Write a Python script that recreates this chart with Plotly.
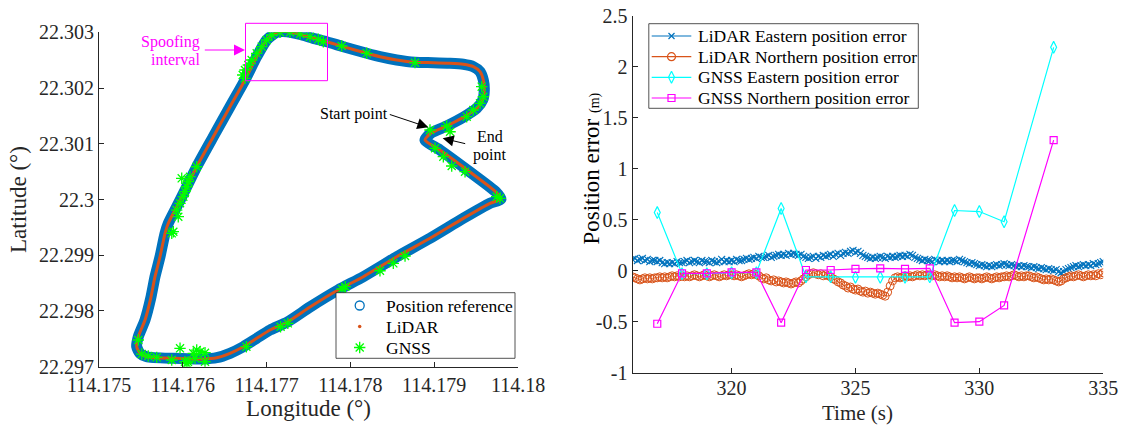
import numpy as np
import plotly.graph_objects as go

W, H = 1123, 425
FONT = "Times New Roman, Liberation Serif, serif"
INK = "#262626"

# ---------------- left panel: trajectory (lon / lat) ----------------
ref_lon = [114.178962, 114.179149, 114.179347, 114.179507, 114.179579, 114.179598,
           114.179586, 114.179547, 114.179467, 114.179347, 114.179189, 114.178989,
           114.178771, 114.178553, 114.178353, 114.178195, 114.177915, 114.177717,
           114.177557, 114.177399, 114.177240, 114.177121, 114.177001, 114.176882,
           114.176742, 114.176563, 114.176364, 114.176166, 114.176047, 114.175927,
           114.175827, 114.175788, 114.175728, 114.175668, 114.175617, 114.175549,
           114.175469, 114.175450, 114.175489, 114.175569, 114.175887, 114.176245,
           114.176405, 114.176563, 114.176722, 114.176882, 114.177041, 114.177253,
           114.177518, 114.177852, 114.178154, 114.178553, 114.178950, 114.179347,
           114.179666, 114.179797, 114.179738, 114.179427, 114.179069, 114.178890,
           114.178962]
ref_lat = [22.301193, 22.301319, 22.301475, 22.301636, 22.301785, 22.301965,
           22.302144, 22.302293, 22.302383, 22.302426, 22.302444, 22.302455,
           22.302462, 22.302503, 22.302562, 22.302623, 22.302742, 22.302831,
           22.302892, 22.302961, 22.303011, 22.303000, 22.302862, 22.302562,
           22.302144, 22.301665, 22.301127, 22.300588, 22.300229, 22.299871,
           22.299573, 22.299393, 22.298973, 22.298615, 22.298227, 22.297838,
           22.297538, 22.297359, 22.297240, 22.297179, 22.297150, 22.297138,
           22.297161, 22.297240, 22.297359, 22.297509, 22.297658, 22.297807,
           22.298071, 22.298376, 22.298615, 22.298973, 22.299304, 22.299662,
           22.299932, 22.300009, 22.300134, 22.300493, 22.300888, 22.301067,
           22.301193]
# LiDAR solution follows the reference track at this scale
lidar_lon = list(ref_lon)
lidar_lat = list(ref_lat)

gnss_lon = [114.176715, 114.176742, 114.176782, 114.176822, 114.176882, 114.176942,
            114.177001, 114.177061, 114.177160, 114.177279, 114.177399, 114.177518,
            114.177617, 114.177677, 114.177896, 114.178195, 114.178771, 114.179567,
            114.179586, 114.179547, 114.179467, 114.179388, 114.179149, 114.179189,
            114.178950, 114.179010, 114.179109, 114.179209, 114.179368, 114.179746,
            114.179785, 114.178652, 114.178512, 114.178353, 114.177939, 114.177900,
            114.177253, 114.177167, 114.176759, 114.175469, 114.175510, 114.175588,
            114.175689, 114.175868, 114.175967, 114.176026, 114.176047, 114.176062,
            114.176125, 114.176166, 114.176205, 114.176265, 114.176265, 114.176146,
            114.176742, 114.176166, 114.175987, 114.176086, 114.176066, 114.176047,
            114.176026, 114.176006, 114.175967, 114.175927, 114.175946, 114.175887,
            114.175868]
gnss_lat = [22.302234, 22.302324, 22.302413, 22.302503, 22.302623, 22.302742,
            22.302862, 22.302952, 22.303000, 22.303000, 22.302969, 22.302921,
            22.302874, 22.302831, 22.302754, 22.302623, 22.302455, 22.302024,
            22.301844, 22.301726, 22.301606, 22.301486, 22.301319, 22.301216,
            22.301247, 22.300919, 22.300768, 22.300601, 22.300499, 22.300050,
            22.300021, 22.298986, 22.298855, 22.298722, 22.298435, 22.298394,
            22.297778, 22.297717, 22.297359, 22.297479, 22.297227, 22.297192,
            22.297168, 22.297120, 22.297330, 22.297089, 22.297061, 22.297084,
            22.297240, 22.297299, 22.297269, 22.297251, 22.297089, 22.297150,
            22.302175, 22.300588, 22.300380, 22.300409, 22.300319, 22.300229,
            22.300140, 22.300050, 22.299932, 22.299811, 22.299691, 22.299422,
            22.299393]

lon_ticks = [114.175, 114.176, 114.177, 114.178, 114.179, 114.18]
lon_labels = ["114.175", "114.176", "114.177", "114.178", "114.179", "114.18"]
lat_ticks = [22.297, 22.298, 22.299, 22.300, 22.301, 22.302, 22.303]
lat_labels = ["22.297", "22.298", "22.299", "22.3", "22.301", "22.302", "22.303"]

# ---------------- right panel: position errors ----------------
t_lidar = np.round(np.arange(316.0, 335.05, 0.1), 1)   # 10 Hz samples
lidar_east = [
    0.11, 0.12, 0.10, 0.11, 0.12, 0.10, 0.11, 0.09, 0.10, 0.10,
    0.09, 0.10, 0.08, 0.07, 0.08, 0.07, 0.08, 0.07, 0.09, 0.08,
    0.08, 0.09, 0.10, 0.08, 0.09, 0.10, 0.09, 0.08, 0.10, 0.09,
    0.09, 0.08, 0.10, 0.09, 0.08, 0.09, 0.11, 0.09, 0.10, 0.09,
    0.10, 0.09, 0.11, 0.10, 0.10, 0.11, 0.12, 0.11, 0.12, 0.13,
    0.12, 0.14, 0.13, 0.13, 0.14, 0.15, 0.13, 0.14, 0.15, 0.16,
    0.15, 0.16, 0.15, 0.17, 0.16, 0.17, 0.16, 0.15, 0.16, 0.14,
    0.13, 0.12, 0.13, 0.14, 0.12, 0.14, 0.13, 0.15, 0.14, 0.15,
    0.16, 0.14, 0.16, 0.17, 0.15, 0.17, 0.18, 0.17, 0.19, 0.20,
    0.18, 0.19, 0.17, 0.15, 0.14, 0.13, 0.12, 0.13, 0.12, 0.13,
    0.14, 0.13, 0.12, 0.14, 0.13, 0.14, 0.13, 0.14, 0.15, 0.14,
    0.15, 0.14, 0.16, 0.15, 0.13, 0.12, 0.11, 0.10, 0.11, 0.10,
    0.10, 0.09, 0.11, 0.10, 0.09, 0.10, 0.09, 0.10, 0.09, 0.10,
    0.10, 0.09, 0.11, 0.10, 0.09, 0.08, 0.07, 0.08, 0.07, 0.06,
    0.05, 0.06, 0.05, 0.04, 0.05, 0.04, 0.05, 0.06, 0.05, 0.06,
    0.07, 0.06, 0.05, 0.06, 0.05, 0.04, 0.05, 0.04, 0.05, 0.04,
    0.04, 0.03, 0.04, 0.03, 0.02, 0.03, 0.02, 0.01, 0.02, 0.01,
    0.00, 0.01, -0.01, -0.02, -0.01, 0.01, 0.02, 0.03, 0.04, 0.05,
    0.04, 0.05, 0.06, 0.05, 0.06, 0.05, 0.07, 0.06, 0.07, 0.08,
    0.09]
lidar_north = [
    -0.06, -0.07, -0.08, -0.09, -0.08, -0.07, -0.08, -0.07, -0.08, -0.07,
    -0.07, -0.06, -0.07, -0.06, -0.07, -0.06, -0.05, -0.06, -0.05, -0.06,
    -0.05, -0.06, -0.05, -0.06, -0.05, -0.04, -0.05, -0.06, -0.05, -0.04,
    -0.05, -0.06, -0.05, -0.04, -0.05, -0.06, -0.05, -0.04, -0.05, -0.04,
    -0.04, -0.05, -0.04, -0.05, -0.06, -0.05, -0.04, -0.03, -0.04, -0.03,
    -0.04, -0.05, -0.07, -0.08, -0.07, -0.09, -0.10, -0.09, -0.11, -0.10,
    -0.11, -0.12, -0.11, -0.12, -0.13, -0.12, -0.11, -0.12, -0.10, -0.08,
    -0.06, -0.04, -0.03, -0.02, -0.03, -0.04, -0.03, -0.05, -0.04, -0.05,
    -0.06, -0.08, -0.09, -0.11, -0.12, -0.14, -0.15, -0.17, -0.16, -0.18,
    -0.19, -0.18, -0.20, -0.21, -0.20, -0.22, -0.21, -0.22, -0.23, -0.22,
    -0.23, -0.24, -0.25, -0.21, -0.15, -0.10, -0.07, -0.06, -0.07, -0.06,
    -0.05, -0.06, -0.05, -0.06, -0.05, -0.04, -0.05, -0.04, -0.05, -0.04,
    -0.04, -0.05, -0.04, -0.05, -0.06, -0.05, -0.06, -0.05, -0.06, -0.07,
    -0.06, -0.07, -0.06, -0.07, -0.08, -0.07, -0.06, -0.07, -0.08, -0.07,
    -0.07, -0.08, -0.07, -0.06, -0.07, -0.08, -0.07, -0.06, -0.07, -0.06,
    -0.06, -0.05, -0.06, -0.05, -0.04, -0.05, -0.06, -0.05, -0.06, -0.05,
    -0.05, -0.06, -0.07, -0.06, -0.07, -0.08, -0.09, -0.08, -0.09, -0.08,
    -0.09, -0.10, -0.11, -0.10, -0.08, -0.07, -0.06, -0.05, -0.06, -0.05,
    -0.04, -0.05, -0.06, -0.05, -0.04, -0.05, -0.04, -0.05, -0.03, -0.04,
    -0.02]

t_gnss = [317, 318, 319, 320, 321, 322, 323, 324, 325, 326, 327, 328, 329, 330, 331, 333]
gnss_east = [0.57, -0.03, -0.03, -0.02, -0.02, 0.61, -0.06, -0.06, -0.065, -0.065,
             -0.065, -0.06, 0.59, 0.58, 0.48, 2.19]
gnss_north = [-0.52, -0.026, -0.026, -0.016, -0.016, -0.51, 0.007, 0.007, 0.017, 0.023,
              0.017, 0.023, -0.51, -0.50, -0.34, 1.28]

time_ticks = [320, 325, 330, 335]
err_ticks = [-1, -0.5, 0, 0.5, 1, 1.5, 2, 2.5]
err_labels = ["-1", "-0.5", "0", "0.5", "1", "1.5", "2", "2.5"]

C_BLUE, C_ORANGE = "#0072BD", "#D95319"
C_GREEN, C_CYAN, C_MAGENTA = "#00FF00", "#00FFFF", "#FF00FF"


def px(x):
    return x / W


def py(y):
    return 1 - y / H


def mk(symbol, size, color, width=1.2):
    # open / line-only symbols take their stroke colour from marker.color
    return dict(symbol=symbol, size=size, color=color, line=dict(color=color, width=width))


fig = go.Figure()

# trajectory
fig.add_trace(go.Scatter(x=ref_lon, y=ref_lat, mode="lines", xaxis="x", yaxis="y",
                         line=dict(color=C_BLUE, width=11, shape="spline", smoothing=0.6),
                         showlegend=False, hoverinfo="skip"))
fig.add_trace(go.Scatter(x=lidar_lon, y=lidar_lat, mode="lines", xaxis="x", yaxis="y",
                         line=dict(color=C_ORANGE, width=3, shape="spline", smoothing=0.6),
                         showlegend=False, hoverinfo="skip"))
fig.add_trace(go.Scatter(x=gnss_lon, y=gnss_lat, mode="markers", xaxis="x", yaxis="y",
                         marker=mk("asterisk-open", 9.5, C_GREEN, 1.3),
                         showlegend=False, hoverinfo="skip"))

# error series
fig.add_trace(go.Scatter(x=t_lidar, y=lidar_east, mode="lines+markers", xaxis="x2", yaxis="y2",
                         line=dict(color=C_BLUE, width=1), marker=mk("x-thin-open", 7, C_BLUE, 1.1),
                         showlegend=False))
fig.add_trace(go.Scatter(x=t_lidar, y=lidar_north, mode="lines+markers", xaxis="x2", yaxis="y2",
                         line=dict(color=C_ORANGE, width=1), marker=mk("circle-open", 8, C_ORANGE, 1),
                         showlegend=False))
fig.add_trace(go.Scatter(x=t_gnss, y=gnss_east, mode="lines+markers", xaxis="x2", yaxis="y2",
                         line=dict(color=C_CYAN, width=1.2), marker=mk("diamond-tall-open", 8.5, C_CYAN),
                         showlegend=False))
fig.add_trace(go.Scatter(x=t_gnss, y=gnss_north, mode="lines+markers", xaxis="x2", yaxis="y2",
                         line=dict(color=C_MAGENTA, width=1.2), marker=mk("square-open", 7, C_MAGENTA),
                         showlegend=False))

# ---------------- legends (drawn on a full-page pixel overlay) ----------------
annotations = []


def legend_box(left, top, right, bottom):
    fig.add_trace(go.Scatter(x=[left, right, right, left, left], y=[top, top, bottom, bottom, top],
                             mode="lines", fill="toself", fillcolor="white",
                             line=dict(color=INK, width=0.8), xaxis="x3", yaxis="y3",
                             showlegend=False, hoverinfo="skip"))


def legend_entry(xs, y, text_x, label, line=None, marker=None):
    if line is not None:
        fig.add_trace(go.Scatter(x=[xs[0], xs[1]], y=[y, y], mode="lines", line=line,
                                 xaxis="x3", yaxis="y3", showlegend=False, hoverinfo="skip"))
    if marker is not None:
        fig.add_trace(go.Scatter(x=[(xs[0] + xs[1]) / 2], y=[y], mode="markers", marker=marker,
                                 xaxis="x3", yaxis="y3", showlegend=False, hoverinfo="skip",
                                 cliponaxis=False))
    annotations.append(dict(x=px(text_x), y=py(y), xref="paper", yref="paper", text=label,
                            showarrow=False, xanchor="left", yanchor="middle",
                            font=dict(family=FONT, size=17.5, color="black")))


# left legend
legend_box(336, 292.7, 515, 358.3)
legend_entry((359.7, 359.7), 305.5, 384, "Position reference", marker=mk("circle-open", 9, C_BLUE, 1.3))
legend_entry((359.7, 359.7), 326.5, 384, "LiDAR", marker=dict(symbol="circle", size=3.5, color=C_ORANGE))
legend_entry((359.7, 359.7), 347.5, 384, "GNSS", marker=mk("asterisk-open", 9.5, C_GREEN, 1.3))

# right legend
legend_box(648.8, 23.7, 918.3, 108.3)
legend_entry((651.7, 691.3), 36, 696, "LiDAR Eastern position error",
             line=dict(color=C_BLUE, width=1.2), marker=mk("x-thin-open", 6, C_BLUE, 1.2))
legend_entry((651.7, 691.3), 56.7, 696, "LiDAR Northern position error",
             line=dict(color=C_ORANGE, width=1.2), marker=mk("circle-open", 8, C_ORANGE, 1.2))
legend_entry((651.7, 691.3), 77.3, 696, "GNSS Eastern position error",
             line=dict(color=C_CYAN, width=1.2), marker=mk("diamond-tall-open", 8.5, C_CYAN))
legend_entry((651.7, 691.3), 98, 696, "GNSS Northern position error",
             line=dict(color=C_MAGENTA, width=1.2), marker=mk("square-open", 7, C_MAGENTA))

# ---------------- callouts and titles ----------------
annotations += [
    dict(x=px(201.7), y=py(42.3), xref="paper", yref="paper", text="Spoofing", showarrow=False,
         xanchor="right", yanchor="middle", font=dict(family=FONT, size=16, color=C_MAGENTA)),
    dict(x=px(201.7), y=py(60), xref="paper", yref="paper", text="interval", showarrow=False,
         xanchor="right", yanchor="middle", font=dict(family=FONT, size=16, color=C_MAGENTA)),
    dict(x=px(245), y=py(50), xref="paper", yref="paper", text="", showarrow=True,
         ax=-41.7, ay=0, arrowhead=2, arrowsize=2.2, arrowwidth=1, arrowcolor=C_MAGENTA, standoff=0),
    dict(x=px(354), y=py(114), xref="paper", yref="paper", text="Start point", showarrow=False,
         xanchor="center", yanchor="middle", font=dict(family=FONT, size=16, color="black")),
    dict(x=px(428.3), y=py(127.3), xref="paper", yref="paper", text="", showarrow=True,
         ax=-40, ay=-13.3, arrowhead=2, arrowsize=2.2, arrowwidth=1, arrowcolor="black", standoff=0),
    dict(x=px(489.5), y=py(136.7), xref="paper", yref="paper", text="End", showarrow=False,
         xanchor="center", yanchor="middle", font=dict(family=FONT, size=16, color="black")),
    dict(x=px(489.5), y=py(155), xref="paper", yref="paper", text="point", showarrow=False,
         xanchor="center", yanchor="middle", font=dict(family=FONT, size=16, color="black")),
    dict(x=px(442.7), y=py(138.3), xref="paper", yref="paper", text="", showarrow=True,
         ax=24, ay=5.7, arrowhead=2, arrowsize=2.2, arrowwidth=1, arrowcolor="black", standoff=0),
    # titles of the error panel (unit of the y title set smaller)
    dict(x=px(590.6), y=py(169), xref="paper", yref="paper", textangle=-90,
         text="Position error <span style='font-size:14px'>(m)</span>", showarrow=False,
         xanchor="center", yanchor="middle", font=dict(family=FONT, size=23, color="black")),
    dict(x=px(857), y=py(412.5), xref="paper", yref="paper", text="Time (s)", showarrow=False,
         xanchor="center", yanchor="middle", font=dict(family=FONT, size=21, color=INK)),
]

# spoofing interval frame
shapes = [dict(type="rect", xref="paper", yref="paper", x0=px(245.5), x1=px(327.5),
               y0=py(80.7), y1=py(23.3), line=dict(color=C_MAGENTA, width=1), layer="above")]

axis_common = dict(showline=True, linecolor=INK, linewidth=1, ticks="inside", ticklen=5,
                   tickwidth=1, tickcolor=INK, showgrid=False, zeroline=False, mirror=False,
                   automargin=False, tickfont=dict(family=FONT, size=20, color=INK))

fig.update_layout(
    template="none",
    width=W, height=H, margin=dict(l=0, r=0, t=0, b=0, pad=0), autosize=False,
    paper_bgcolor="white", plot_bgcolor="rgba(0,0,0,0)", showlegend=False,
    xaxis=dict(axis_common, domain=[px(99), px(518)], range=[114.175, 114.18], anchor="y",
               tickmode="array", tickvals=lon_ticks, ticktext=lon_labels,
               title=dict(text="Longitude (°)", font=dict(family=FONT, size=23, color=INK), standoff=5)),
    yaxis=dict(axis_common, domain=[py(366.7), py(32.3)], range=[22.297, 22.303], anchor="x",
               tickmode="array", tickvals=lat_ticks, ticktext=lat_labels,
               title=dict(text="Latitude (°)", font=dict(family=FONT, size=23, color=INK), standoff=5)),
    xaxis2=dict(axis_common, domain=[px(632.5), px(1103.2)], range=[316, 335], anchor="y2",
                tickmode="array", tickvals=time_ticks, ticktext=[str(v) for v in time_ticks],
                ticklabelstandoff=-3),
    yaxis2=dict(axis_common, domain=[py(372.7), py(15.7)], range=[-1, 2.5], anchor="x2",
                tickmode="array", tickvals=err_ticks, ticktext=err_labels),
    xaxis3=dict(domain=[0, 1], range=[0, W], anchor="y3", visible=False, fixedrange=True),
    yaxis3=dict(domain=[0, 1], range=[H, 0], anchor="x3", visible=False, fixedrange=True),
    annotations=annotations,
    shapes=shapes,
)

fig.write_html("out.html")
